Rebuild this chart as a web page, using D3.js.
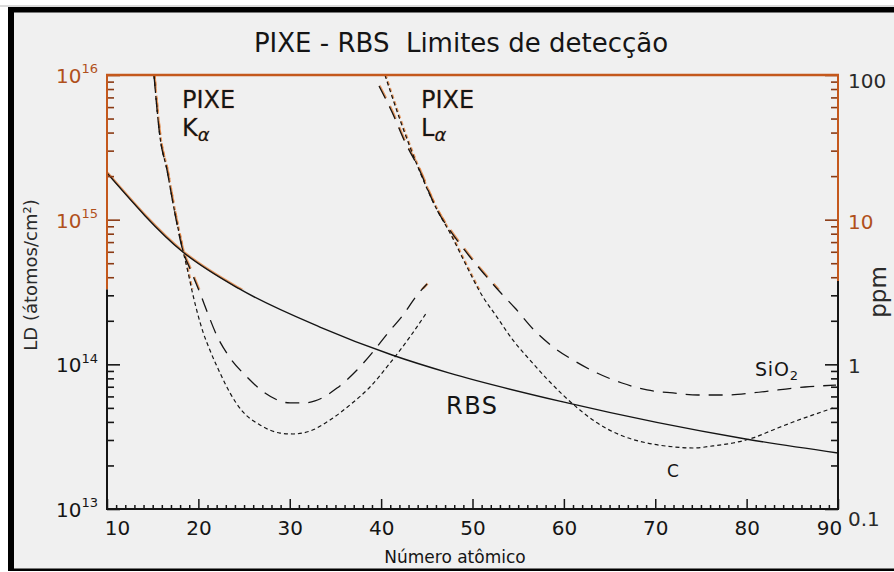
<!DOCTYPE html>
<html>
<head>
<meta charset="utf-8">
<script src="https://cdn.jsdelivr.net/npm/d3@7/dist/d3.min.js"></script>
<style>
  body { margin: 0; background: #fff; }
  svg { display: block; font-family: "DejaVu Sans", sans-serif; }
</style>
</head>
<body>
<div id="chart"></div>
<script>
// valores (Z, LD em átomos/cm2)
const rbsZ  = [10, 18.3, 24.5, 33.3, 41.2, 47.4, 59.9, 79.9, 90];
const rbsLD = [2.1e15, 5.98e14, 3.32e14, 1.81e14, 1.16e14, 8.73e13, 5.5e13, 3.05e13, 2.44e13];

const kaZ_C  = [15.14, 15.8, 16.57, 17.22, 18.32, 18.86, 19.41, 19.96, 20.51, 21.16, 22.37, 23.46, 24.88, 26.74, 28.93, 30.36, 32.22, 34.4, 36.59, 38.78, 40.97, 43.16, 45.02];
const kaLD_C = [1e16, 3.72e15, 2.2e15, 1.3e15, 6.07e14, 4.35e14, 3.01e14, 2.19e14, 1.67e14, 1.3e14, 8.71e13, 6.34e13, 4.69e13, 3.81e13, 3.35e13, 3.3e13, 3.46e13, 4.12e13, 5.24e13, 6.97e13, 1.02e14, 1.55e14, 2.3e14];

const kaZ_SiO2  = [15.14, 15.8, 16.57, 17.22, 18.32, 19.19, 20.18, 21.05, 22.04, 23.24, 25.32, 27.29, 30.03, 31.45, 32.76, 35.17, 37.36, 39.11, 40.75, 42.39, 43.93, 45.02];
const kaLD_SiO2 = [1e16, 3.72e15, 2.2e15, 1.3e15, 6.07e14, 4.42e14, 3.11e14, 2.23e14, 1.57e14, 1.16e14, 8.17e13, 6.34e13, 5.41e13, 5.41e13, 5.58e13, 6.85e13, 9.14e13, 1.22e14, 1.65e14, 2.19e14, 3.01e14, 3.59e14];

const laZ_C  = [40.42, 42.07, 43.93, 46.11, 47.54, 49.4, 50.82, 52.68, 54.43, 56.29, 58.15, 59.9, 61.76, 63.63, 66.14, 69.1, 71.94, 74.13, 76.32, 78.51, 80.7, 82.89, 85.08, 87.27, 89.45];
const laLD_C = [1e16, 4.89e15, 2.39e15, 1.17e15, 8.09e14, 4.71e14, 3.16e14, 2.12e14, 1.47e14, 1.07e14, 7.93e13, 6.14e13, 4.83e13, 3.94e13, 3.25e13, 2.86e13, 2.69e13, 2.64e13, 2.73e13, 2.86e13, 3.1e13, 3.52e13, 3.99e13, 4.47e13, 4.99e13];

const laZ_SiO2  = [39.77, 41.19, 42.61, 43.93, 46.11, 48.3, 49.73, 51.37, 53.01, 54.65, 56.84, 58.81, 61.22, 63.63, 66.36, 69.1, 71.94, 74.68, 77.63, 80.59, 83.43, 86.39, 89.78];
const laLD_SiO2 = [8.39e15, 5.55e15, 3.44e15, 2.39e15, 1.17e15, 7.23e14, 5.52e14, 4.15e14, 3.16e14, 2.45e14, 1.7e14, 1.32e14, 1.05e14, 8.71e13, 7.43e13, 6.65e13, 6.34e13, 6.14e13, 6.14e13, 6.34e13, 6.65e13, 6.97e13, 7.19e13];

const xTicks = [10, 20, 30, 40, 50, 60, 70, 80, 90];
const xLabels = ["10", "20", "30", "40", "50", "60", "70", "80", "90"];
const ldTicks = [1e13, 1e14, 1e15, 1e16];
const ldExp = ["13", "14", "15", "16"];
const ppmTicks = [0.1, 1, 10, 100];
const ppmLabels = ["0.1", "1", "10", "100"];

const W = 894, H = 572;
const orange = "#c4581c";
const ink = "#151515";

const svg = d3.select("#chart").append("svg")
    .attr("width", W)
    .attr("height", H);

// moldura
svg.append("rect").attr("x", 0).attr("y", 0).attr("width", W).attr("height", H).attr("fill", "#fff");
svg.append("rect").attr("x", 0).attr("y", 5.5).attr("width", W).attr("height", 1).attr("fill", "#b5b5b5");
svg.append("rect").attr("x", 8).attr("y", 7).attr("width", W - 8).attr("height", 564).attr("fill", "#000");
svg.append("rect").attr("x", 14).attr("y", 12.5).attr("width", W - 14).attr("height", 556).attr("fill", "#f0f0f0");

const x = d3.scaleLinear().domain([10, 90]).range([107, 838]);
const y = d3.scaleLog().domain([1e13, 1e16]).range([509, 75]);
const yR = d3.scaleLog().domain([0.1, 100]).range([509, 75]);
const yOrange = y(3.3e14);  // limite da zona alaranjada

const isDecade = v => Math.abs(Math.log10(v) - Math.round(Math.log10(v))) < 1e-6;

// clip
const defs = svg.append("defs");
defs.append("clipPath").attr("id", "plot").append("rect")
    .attr("x", x(10)).attr("y", y(1e16)).attr("width", x(90) - x(10)).attr("height", y(1e13) - y(1e16));
defs.append("clipPath").attr("id", "upper").append("rect")
    .attr("x", x(10)).attr("y", y(1e16) - 2).attr("width", x(90) - x(10)).attr("height", yOrange - y(1e16) + 2);

// curvas
const line = d3.line()
    .x(d => x(d[0]))
    .y(d => y(d[1]))
    .curve(d3.curveMonotoneX);

const curves = [
    { z: rbsZ, ld: rbsLD, dash: null, w: 1.4 },
    { z: kaZ_SiO2, ld: kaLD_SiO2, dash: "14,9", w: 1.3 },
    { z: kaZ_C, ld: kaLD_C, dash: "4,3", w: 1.2 },
    { z: laZ_SiO2, ld: laLD_SiO2, dash: "14,9", w: 1.3 },
    { z: laZ_C, ld: laLD_C, dash: "4,3", w: 1.2 }
];

const gPlot = svg.append("g").attr("clip-path", "url(#plot)");
const gFringe = gPlot.append("g").attr("clip-path", "url(#upper)");

gFringe.selectAll("path")
    .data(curves)
    .enter().append("path")
    .attr("d", c => line(d3.zip(c.z, c.ld)))
    .attr("fill", "none")
    .attr("stroke", "#e07a30")
    .attr("stroke-opacity", 0.75)
    .attr("stroke-width", c => c.w + 0.9)
    .attr("transform", "translate(0.6,-0.4)")
    .attr("stroke-dasharray", c => c.dash);

gPlot.selectAll("path.curve")
    .data(curves)
    .enter().append("path")
    .attr("class", "curve")
    .attr("d", c => line(d3.zip(c.z, c.ld)))
    .attr("fill", "none")
    .attr("stroke", ink)
    .attr("stroke-width", c => c.w)
    .attr("stroke-dasharray", c => c.dash);

// eixo X
const gx = svg.append("g").attr("transform", `translate(0,${y(1e13)})`);
gx.call(d3.axisBottom(x).tickValues(x.ticks(80).filter(v => v % 10 !== 0)).tickSize(-4).tickFormat("").tickSizeOuter(0))
    .call(g => g.select(".domain").remove());
const gx2 = svg.append("g").attr("transform", `translate(0,${y(1e13)})`)
    .call(d3.axisBottom(x).tickValues(xTicks).tickSize(-10).tickPadding(12)
        .tickFormat((d, i) => xLabels[i]).tickSizeOuter(0))
    .call(g => g.select(".domain").remove())
    .attr("font-family", "DejaVu Sans").attr("font-size", 20);
gx2.selectAll(".tick text").attr("fill", ink)
    .attr("dx", (d, i) => i === 0 ? 10 : i === xTicks.length - 1 ? -9 : 0);
svg.selectAll(".tick line").attr("stroke", ink).attr("stroke-width", 1.5);

// eixo esquerdo
const gyMinor = svg.append("g").attr("transform", `translate(${x(10)},0)`)
    .call(d3.axisLeft(y).tickValues(y.ticks().filter(v => !isDecade(v))).tickSize(-7).tickFormat("").tickSizeOuter(0))
    .call(g => g.select(".domain").remove());
const gy = svg.append("g").attr("transform", `translate(${x(10)},0)`)
    .call(d3.axisLeft(y).tickValues(ldTicks).tickSize(-13).tickPadding(9).tickFormat("").tickSizeOuter(0))
    .call(g => g.select(".domain").remove())
    .attr("font-family", "DejaVu Sans").attr("font-size", 20);
gy.selectAll(".tick text")
    .attr("dy", "0.38em")
    .attr("fill", d => y(d) < yOrange ? "#b0501c" : ink)
    .each(function(d, i) {
        const t = d3.select(this);
        t.append("tspan").text("10");
        t.append("tspan").attr("font-size", 13).attr("dy", "-0.75em").text(ldExp[i]);
    });

// eixo direito
const gyRMinor = svg.append("g").attr("transform", `translate(${x(90)},0)`)
    .call(d3.axisRight(yR).tickValues(yR.ticks().filter(v => !isDecade(v))).tickSize(-7).tickFormat("").tickSizeOuter(0))
    .call(g => g.select(".domain").remove());
const gyR = svg.append("g").attr("transform", `translate(${x(90)},0)`)
    .call(d3.axisRight(yR).tickValues(ppmTicks).tickSize(-13).tickPadding(10)
        .tickFormat((d, i) => ppmLabels[i]).tickSizeOuter(0))
    .call(g => g.select(".domain").remove())
    .attr("font-family", "DejaVu Sans").attr("font-size", 20);
gyR.selectAll(".tick text")
    .attr("dy", d => d === 100 ? "0.6em" : d === 0.1 ? "0.8em" : "0.42em")
    .attr("fill", d => d === 10 ? "#b0501c" : "#2a2a2a");

[gyMinor, gy, gyRMinor, gyR].forEach(g => {
    g.selectAll(".tick line")
        .attr("stroke", d => (g === gyMinor || g === gy ? y(d) : yR(d)) < yOrange + 1 ? "#8a3a14" : ink)
        .attr("stroke-width", 1.6);
});

// linhas dos eixos
svg.append("line").attr("x1", x(10)).attr("x2", x(90)).attr("y1", y(1e13)).attr("y2", y(1e13))
    .attr("stroke", ink).attr("stroke-width", 2);
svg.append("line").attr("x1", x(10)).attr("x2", x(10)).attr("y1", yOrange).attr("y2", y(1e13) + 1)
    .attr("stroke", ink).attr("stroke-width", 2);
svg.append("line").attr("x1", x(90)).attr("x2", x(90)).attr("y1", y(1e16) + 206).attr("y2", y(1e13) + 1)
    .attr("stroke", ink).attr("stroke-width", 2);
svg.append("line").attr("x1", x(10)).attr("x2", x(10)).attr("y1", y(1e16) - 1).attr("y2", yOrange)
    .attr("stroke", orange).attr("stroke-width", 2);
svg.append("line").attr("x1", x(90)).attr("x2", x(90)).attr("y1", y(1e16) - 1).attr("y2", y(1e16) + 206)
    .attr("stroke", orange).attr("stroke-width", 2);
svg.append("line").attr("x1", x(10) - 1).attr("x2", x(90) + 1).attr("y1", y(1e16)).attr("y2", y(1e16))
    .attr("stroke", orange).attr("stroke-width", 2.6);

// textos
svg.append("text")
    .attr("x", 461).attr("y", 52)
    .attr("text-anchor", "middle")
    .attr("font-size", 26)
    .attr("fill", ink)
    .style("white-space", "pre")
    .text("PIXE - RBS  Limites de detecção");

function pixeLabel(px, py, letter) {
    const t = svg.append("text").attr("x", px).attr("y", py).attr("font-size", 24).attr("fill", ink)
        .attr("stroke", "#e07a30").attr("stroke-width", 0.5).attr("stroke-opacity", 0.8)
        .attr("paint-order", "stroke");
    t.append("tspan").text("PIXE");
    t.append("tspan").attr("x", px).attr("dy", 28).text(letter);
    t.append("tspan").attr("font-size", 18).attr("font-style", "italic").attr("dy", 5).text("α");
}
pixeLabel(182, 108, "K");
pixeLabel(421, 108, "L");

svg.append("text").attr("x", 446).attr("y", 414).attr("font-size", 24)
    .attr("letter-spacing", 1.5).attr("fill", ink).text("RBS");

const sio = svg.append("text").attr("x", 755).attr("y", 376).attr("font-size", 19)
    .attr("letter-spacing", 0.8).attr("fill", ink);
sio.append("tspan").text("SiO");
sio.append("tspan").attr("font-size", 13).attr("dy", 4).text("2");

svg.append("text").attr("x", 667).attr("y", 477).attr("font-size", 17).attr("fill", ink).text("C");

svg.append("text")
    .attr("x", 455).attr("y", 563)
    .attr("text-anchor", "middle")
    .attr("font-size", 17)
    .attr("fill", ink)
    .text("Número atômico");

svg.append("text")
    .attr("transform", "translate(37,275) rotate(-90)")
    .attr("text-anchor", "middle")
    .attr("font-size", 18)
    .attr("fill", "#2a2a2a")
    .text("LD (átomos/cm²)");

svg.append("text")
    .attr("transform", "translate(886,292) rotate(-90)")
    .attr("text-anchor", "middle")
    .attr("font-size", 23)
    .attr("fill", "#2a2a2a")
    .text("ppm");
</script>
</body>
</html>
